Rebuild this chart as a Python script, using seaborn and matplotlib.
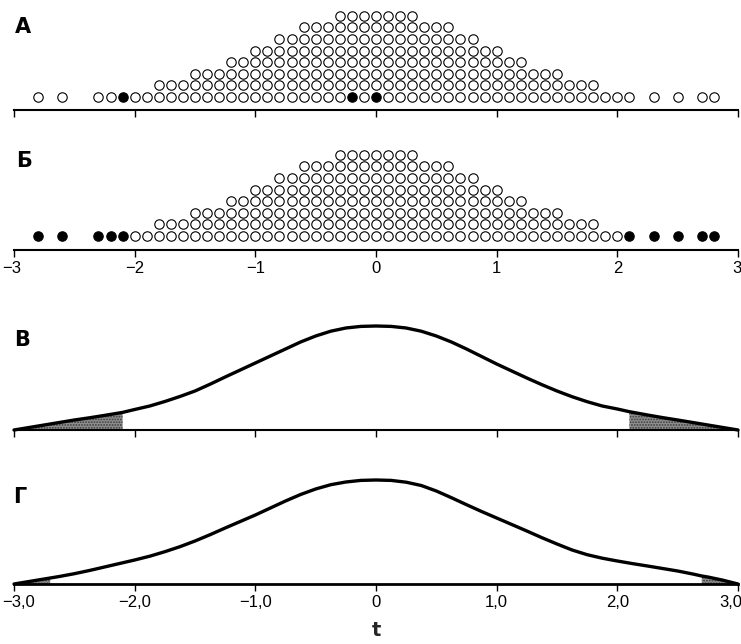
import numpy as np
import pandas as pd
import matplotlib
matplotlib.use("Agg")
import matplotlib.pyplot as plt
import matplotlib.transforms as mtransforms
import seaborn as sns

# ---------------- data ----------------
# dot plot: column positions (t, step 0.1) and number of stacked dots per column
col_t = [-2.8, -2.6, -2.3, -2.2, -2.1,
         -2.0, -1.9, -1.8, -1.7, -1.6, -1.5, -1.4, -1.3, -1.2, -1.1,
         -1.0, -0.9, -0.8, -0.7, -0.6, -0.5, -0.4, -0.3, -0.2, -0.1,
         0.0, 0.1, 0.2, 0.3, 0.4, 0.5, 0.6, 0.7, 0.8, 0.9, 1.0,
         1.1, 1.2, 1.3, 1.4, 1.5, 1.6, 1.7, 1.8, 1.9, 2.0,
         2.1, 2.3, 2.5, 2.7, 2.8]
col_count = [1, 1, 1, 1, 1,
             1, 1, 2, 2, 2, 3, 3, 3, 4, 4,
             5, 5, 6, 6, 7, 7, 7, 8, 8, 8,
             8, 8, 8, 8, 7, 7, 7, 6, 6, 5, 5,
             4, 4, 3, 3, 3, 2, 2, 2, 1, 1,
             1, 1, 1, 1, 1]
filled_A = [-2.1, -0.2, 0.0]          # filled dots (bottom row) in panel A
crit_B = 2.0                          # panel Б: |t| beyond this are filled

# t-distribution curves (heights in pixels above baseline, peak = 104)
curve_t_V = [-3.0, -2.875, -2.75, -2.625, -2.5, -2.375, -2.25, -2.1, -2.0, -1.875,
             -1.75, -1.625, -1.5, -1.375, -1.25, -1.125, -1.0, -0.875, -0.75, -0.625,
             -0.5, -0.375, -0.25, -0.125, 0.0, 0.125, 0.25, 0.375, 0.5, 0.625,
             0.75, 0.875, 1.0, 1.125, 1.25, 1.375, 1.5, 1.625, 1.75, 1.875,
             2.0, 2.1, 2.25, 2.375, 2.5, 2.625, 2.75, 2.875, 3.0]
curve_h_V = [0.0, 2.5, 5.0, 7.5, 10.0, 12.2, 14.6, 17.6, 20.5, 24.0,
             28.5, 33.5, 39.0, 45.8, 53.0, 60.0, 67.0, 74.0, 81.0, 88.0,
             94.0, 98.8, 102.0, 103.6, 104.0, 103.6, 102.0, 98.8, 94.0, 88.0,
             81.0, 73.5, 66.0, 59.0, 52.0, 45.3, 39.0, 33.3, 28.3, 24.0,
             21.0, 18.3, 15.0, 12.4, 10.0, 7.5, 5.0, 2.5, 0.0]
crit_V = 2.1

curve_t_G = [-3.0, -2.875, -2.75, -2.7, -2.625, -2.5, -2.375, -2.25, -2.125, -2.0,
             -1.875, -1.75, -1.625, -1.5, -1.375, -1.25, -1.125, -1.0, -0.875, -0.75,
             -0.625, -0.5, -0.375, -0.25, -0.125, 0.0, 0.125, 0.25, 0.375, 0.5,
             0.625, 0.75, 0.875, 1.0, 1.125, 1.25, 1.375, 1.5, 1.625, 1.75,
             1.875, 2.0, 2.125, 2.25, 2.375, 2.5, 2.625, 2.7, 2.75, 2.875, 3.0]
curve_h_G = [0.0, 2.5, 5.0, 6.0, 7.5, 10.3, 13.5, 17.0, 20.5, 24.0,
             27.8, 32.3, 37.3, 43.0, 49.3, 56.0, 62.5, 69.0, 76.0, 83.0,
             89.5, 95.0, 99.3, 102.0, 103.6, 104.0, 103.6, 101.8, 98.5, 93.0,
             86.3, 79.3, 72.5, 66.0, 59.5, 53.0, 46.3, 40.0, 34.0, 29.3,
             25.8, 23.0, 20.4, 18.0, 15.5, 13.0, 10.0, 8.0, 7.0, 3.8, 0.0]
crit_G = 2.7

ticks = [-3, -2, -1, 0, 1, 2, 3]
labels_B = ["\u22123", "\u22122", "\u22121", "0", "1", "2", "3"]
labels_G = ["\u22123,0", "\u22122,0", "\u22121,0", "0", "1,0", "2,0", "3,0"]
panel_letters = ["А", "Б", "В", "Г"]

# ---------------- figure ----------------
sns.set_theme(style="white")
plt.rcParams["font.family"] = ["Liberation Sans Narrow", "Liberation Sans", "DejaVu Sans"]
plt.rcParams["hatch.linewidth"] = 0.9

W, H = 741, 644
fig = plt.figure(figsize=(W / 100, H / 100), dpi=100)
fig.patch.set_facecolor("white")

X_L, X_R = 14, 738


def rect(top, bottom):
    return [X_L / W, 1 - bottom / H, (X_R - X_L) / W, (bottom - top) / H]


def style_axis(ax, labels, lw=1.5):
    for s in ["left", "right", "top"]:
        ax.spines[s].set_visible(False)
    ax.spines["bottom"].set_linewidth(lw)
    ax.spines["bottom"].set_color("black")
    ax.set_xlim(-3, 3)
    ax.set_xticks(ticks)
    ax.tick_params(axis="x", direction="out", length=5, width=1, color="black",
                   labelsize=12, pad=3, labelcolor="black", bottom=True)
    ax.set_yticks([])
    ax.set_ylabel("")
    ax.set_xlabel("")
    ax.set_facecolor("none")
    if labels is None:
        ax.set_xticklabels([])
    else:
        ax.set_xticklabels(labels)
        tl = ax.get_xticklabels()
        # keep the end labels inside the figure
        tl[0].set_horizontalalignment("left")
        tl[0].set_transform(tl[0].get_transform() +
                            mtransforms.ScaledTranslation(-12 / 100, 0, fig.dpi_scale_trans))
        tl[-1].set_horizontalalignment("right")
        tl[-1].set_transform(tl[-1].get_transform() +
                             mtransforms.ScaledTranslation(4 / 100, 0, fig.dpi_scale_trans))


def build_dots(filled_rule):
    rows = []
    for t, n in zip(col_t, col_count):
        for k in range(n):
            rows.append({"t": t, "level": k, "filled": filled_rule(t, k)})
    return pd.DataFrame(rows)


dfA = build_dots(lambda t, k: (k == 0) and any(abs(t - f) < 1e-9 for f in filled_A))
dfB = build_dots(lambda t, k: abs(t) > crit_B + 1e-9)

ROW_PX = 11.6
# (dataframe, axes top px, axes bottom px, bottom-row centre px, labels)
for df, top, bottom, row0, labels in [(dfA, 5, 110, 97, None), (dfB, 140, 250, 236, labels_B)]:
    ax = fig.add_axes(rect(top, bottom))
    for filled, fc in [(False, "white"), (True, "black")]:
        sub = df[df["filled"] == filled]
        sns.scatterplot(data=sub, x="t", y="level", ax=ax, s=46, marker="o",
                        facecolor=fc, edgecolor="black", linewidth=0.8,
                        legend=False, clip_on=False, zorder=3)
    ax.set_ylim(-(bottom - row0) / ROW_PX, (row0 - top) / ROW_PX)
    style_axis(ax, labels)


def curve_panel(top, bottom, ct, ch, crit, lw_axis, labels):
    ax = fig.add_axes(rect(top, bottom))
    ct = np.array(ct)
    ch = np.array(ch)
    left = ct <= -crit + 1e-9
    right = ct >= crit - 1e-9
    for m in (left, right):
        ax.fill_between(ct[m], 0, ch[m], facecolor="#8f8f8f", edgecolor="#3a3a3a",
                        hatch="......", linewidth=0, zorder=1)
    sns.lineplot(x=ct, y=ch, ax=ax, color="black", linewidth=2.4, sort=False,
                 estimator=None, clip_on=False, zorder=3)
    ax.set_ylim(0, bottom - top)
    style_axis(ax, labels, lw_axis)
    return ax


curve_panel(300, 430, curve_t_V, curve_h_V, crit_V, 1.5, None)
axG = curve_panel(455, 584, curve_t_G, curve_h_G, crit_G, 2.0, labels_G)
axG.set_xlabel("t", fontsize=14, fontweight="bold", family="DejaVu Sans", labelpad=8)

for letter, (x, y) in zip(panel_letters, [(23, 27), (24, 161), (22, 340), (20, 497)]):
    fig.text(x / W, 1 - y / H, letter, ha="center", va="center", fontsize=15,
             fontweight="bold", family="DejaVu Sans", color="black")

fig.savefig("out.png", dpi=100, facecolor="white")
